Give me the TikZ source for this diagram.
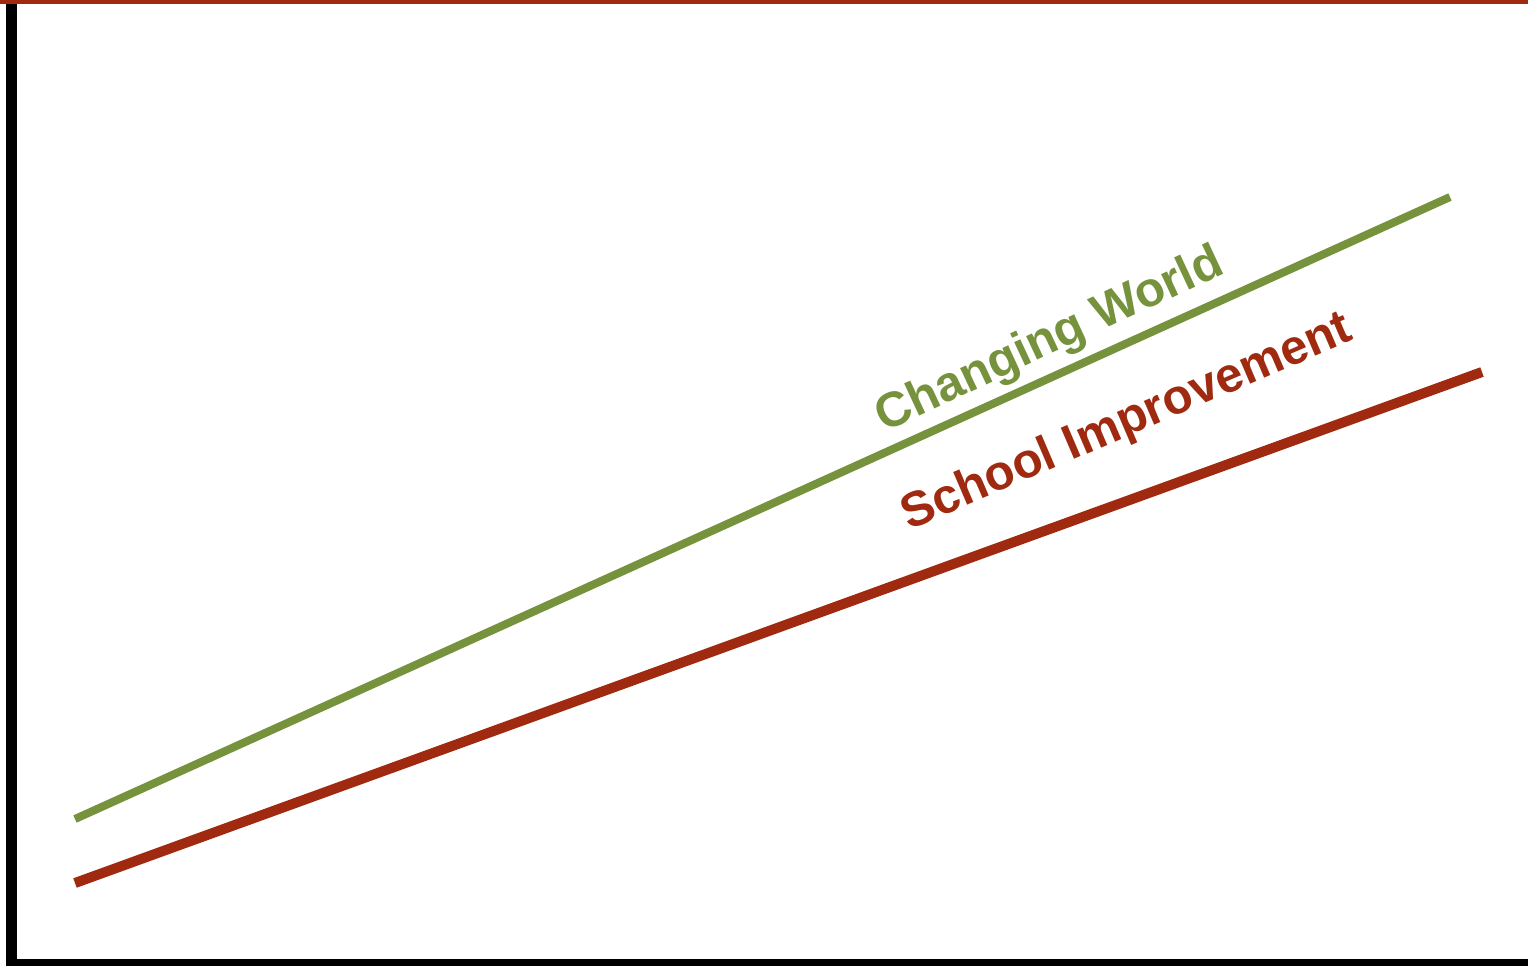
\documentclass[tikz,border=0pt]{standalone}
\usepackage{fontspec}
\setmainfont{Liberation Sans}
\definecolor{cwgreen}{HTML}{76923C}
\definecolor{sired}{HTML}{9F2A10}
\begin{document}
\begin{tikzpicture}[x=0.5pt,y=-0.5pt,
  axis/.style={draw=black,line cap=butt},
  trend/.style={line cap=butt},
  lbl/.style={font=\bfseries\fontsize{24.5}{28}\selectfont,inner sep=0pt}]
\useasboundingbox (0,0) rectangle (1528,966);
\fill[white] (0,0) rectangle (1528,966);
% frame
\coordinate (tl) at (11.5,0);
\coordinate (bl) at (11.5,966);
\coordinate (hl) at (6,962.5);
\coordinate (hr) at (1528,962.5);
\coordinate (rt0) at (0,1.75);
\coordinate (rt1) at (1528,1.75);
\draw[axis,line width=5.5pt] (tl) -- (bl);
\draw[axis,line width=3.5pt] (hl) -- (hr);
\draw[sired,line width=1.75pt] (rt0) -- (rt1);
% trend lines
\coordinate (g0) at (75,819);
\coordinate (g1) at (1450,197);
\coordinate (r0) at (75,883);
\coordinate (r1) at (1482,372);
\draw[trend,cwgreen,line width=4pt] (g0) -- (g1);
\draw[trend,sired,line width=5pt] (r0) -- (r1);
% labels
\node[lbl,text=cwgreen,rotate=25] (cw) at (1050,341) {Changing World};
\node[lbl,text=sired,rotate=23.2] (si) at (1127,423) {School Improvement};
\end{tikzpicture}
\end{document}
